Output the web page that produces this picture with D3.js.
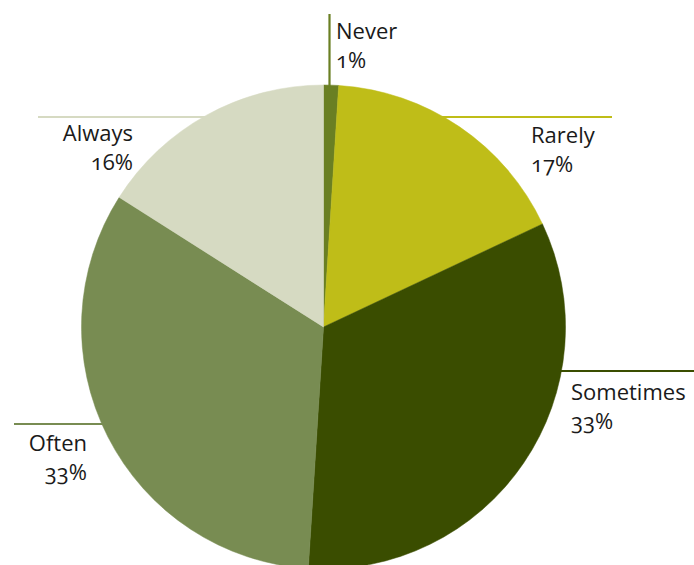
<!DOCTYPE html>
<html>
<head>
<meta charset="utf-8">
<script src="https://cdn.jsdelivr.net/npm/d3@7"></script>
<style>
  html, body { margin: 0; padding: 0; background: #fff; }
  svg { display: block; }
  text {
    font-family: "Open Sans", "DejaVu Sans", sans-serif;
    font-weight: 400;
    fill: #1a1a1a;
    font-variant-numeric: oldstyle-nums;
    font-feature-settings: "onum" 1;
  }
</style>
</head>
<body>
<svg id="chart" width="694" height="565"></svg>
<script>
// Survey answer shares (percent), clockwise from 12 o'clock
const categories = ["Never", "Rarely", "Sometimes", "Often", "Always"];
const values = [1, 17, 33, 33, 16];
const colors = ["#6a7f23", "#bfbd18", "#3a4d00", "#788c52", "#d6dac2"];

const width = 694, height = 565;
const cx = 323.5, cy = 327, radius = 242;

// Label layout: leader line side/level and text anchor per category
const labelLayout = {
  Never:     { kind: "vertical", x: 329.5, yTop: 14, tx: 336, ty: 39, anchor: "start" },
  Rarely:    { kind: "right", y: 117, xEnd: 612, tx: 531, ty: 143, anchor: "start" },
  Sometimes: { kind: "right", y: 371, xEnd: 694, tx: 571, ty: 400, anchor: "start" },
  Often:     { kind: "left",  y: 424, xEnd: 14,  tx: 87,  ty: 451, anchor: "end" },
  Always:    { kind: "left",  y: 117, xEnd: 38,  tx: 133, ty: 141, anchor: "end" }
};

const data = categories.map((c, i) => ({ name: c, value: values[i], color: colors[i] }));

const svg = d3.select("#chart");
const g = svg.append("g").attr("transform", `translate(${cx},${cy})`);

const pie = d3.pie().value(d => d.value).sort(null);
const arc = d3.arc().innerRadius(0).outerRadius(radius);

g.selectAll("path.slice")
  .data(pie(data))
  .join("path")
  .attr("class", "slice")
  .attr("d", arc)
  .attr("fill", d => d.data.color)
  .attr("stroke", d => d.data.color)
  .attr("stroke-width", 0.5);

// Leader lines start on the pie rim
const leaders = svg.append("g");
data.forEach(d => {
  const L = labelLayout[d.name];
  let x1, y1, x2, y2;
  if (L.kind === "vertical") {
    const dx = L.x - cx;
    x1 = x2 = L.x;
    y1 = L.yTop;
    y2 = cy - Math.sqrt(radius * radius - dx * dx) + 1;
  } else {
    const dy = L.y - cy;
    const half = Math.sqrt(radius * radius - dy * dy);
    y1 = y2 = L.y;
    x1 = L.kind === "right" ? cx + half - 2 : cx - half + 2;
    x2 = L.xEnd;
  }
  leaders.append("line")
    .attr("x1", x1).attr("y1", y1)
    .attr("x2", x2).attr("y2", y2)
    .attr("stroke", d.color)
    .attr("stroke-width", 2.2);
});

const labels = svg.append("g");
data.forEach(d => {
  const L = labelLayout[d.name];
  const t = labels.append("text")
    .attr("x", L.tx).attr("y", L.ty)
    .attr("text-anchor", L.anchor)
    .attr("font-size", 22);
  t.append("tspan").attr("x", L.tx).text(d.name);
  t.append("tspan").attr("x", L.tx).attr("dy", 29).text(d3.format("d")(d.value) + "%");
});
</script>
</body>
</html>
